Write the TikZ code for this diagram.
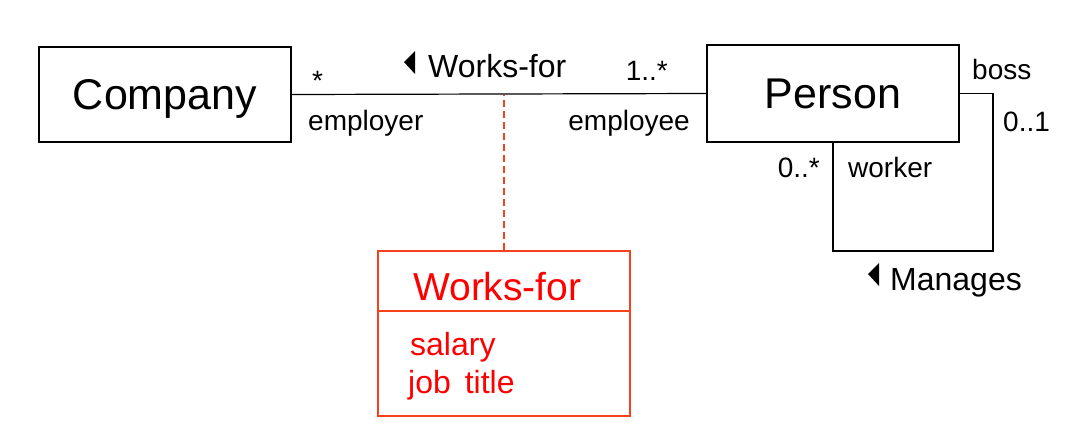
\documentclass[tikz,border=0pt]{standalone}
\usepackage{fontspec}
\setmainfont{Liberation Sans}
\usetikzlibrary{positioning}
\definecolor{linkred}{HTML}{F5421B}
\definecolor{textred}{HTML}{FF0000}

\begin{document}
\begin{tikzpicture}[x=1pt, y=-1pt,
  classbox/.style={draw, line width=1.2pt, inner sep=0pt, minimum width=252pt, text depth=0pt, font=\fontsize{43}{50}\selectfont},
  rolelabel/.style={inner sep=0pt, font=\fontsize{28}{32}\selectfont},
  assocname/.style={inner sep=0pt, font=\fontsize{32}{36}\selectfont},
  attrtext/.style={inner sep=0pt, text=textred, font=\fontsize{32}{36}\selectfont}]
\useasboundingbox (0,0) rectangle (1081,445);
%----------------- classes -----------------
\node[classbox, minimum height=95pt] (company) at (165,94.5) {Company};
\node[classbox, minimum height=97pt] (person) at (833,93.5) {Person};
% association class
\node[classbox, draw=linkred, minimum height=165pt] (wfclass) at (504,333.5) {};
\draw[linkred, line width=1.2pt] (wfclass.west |- 0,311) -- (wfclass.east |- 0,311);
\node[attrtext, anchor=base west, font=\fontsize{39}{44}\selectfont] (wftitle) at (413,300) {Works-for};
\node[attrtext, anchor=base west] (salary) at (410,355) {salary};
\node[attrtext, anchor=base west] (jobtitle) at (408,393) {job\hspace{5pt} title};
%----------------- Works-for association -----------------
\draw[line width=1.2pt] (company.east) -- (person.west);
\draw[linkred, line width=1.2pt, dash pattern=on 7pt off 4pt] (wfclass.north) -- (wfclass.north |- company.east);
\fill (404,62) -- (415,51) -- (415,74) -- cycle;
\node[assocname, anchor=base west] (wfname) at (428,77) {Works-for};
\node[rolelabel, anchor=base west] (mult1) at (312,90) {*};
\node[rolelabel, anchor=base west] (employer) at (308,130) {employer};
\node[rolelabel, anchor=base east] (mult2) at (668,80) {1..*};
\node[rolelabel, anchor=base east] (employee) at (690,130) {employee};
%----------------- Manages self association -----------------
\coordinate (loopcorner) at (993,251);
\draw[line width=1.2pt] (person.east) -| (loopcorner) -| (person.south);
\fill (868,274) -- (879,263) -- (879,286) -- cycle;
\node[assocname, anchor=base west] (manages) at (890,290) {Manages};
\node[rolelabel, anchor=base west] (boss) at (972,79) {boss};
\node[rolelabel, anchor=base west] (mult3) at (1003,131) {0..1};
\node[rolelabel, anchor=base east] (mult4) at (820,177) {0..*};
\node[rolelabel, anchor=base west] (worker) at (848,177) {worker};
\end{tikzpicture}
\end{document}
